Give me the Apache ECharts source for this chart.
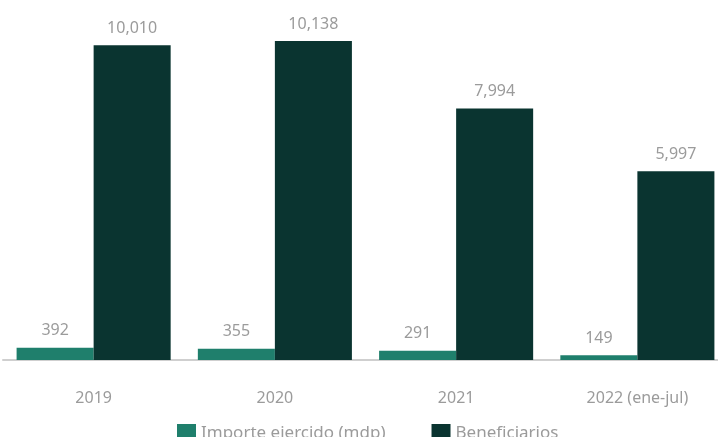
<!DOCTYPE html>
<html>
<head>
<meta charset="utf-8">
<script src="https://cdn.jsdelivr.net/npm/echarts@6/dist/echarts.min.js"></script>
<style>
  html, body { margin: 0; padding: 0; background: #fff; }
  #chart { width: 718px; height: 437px; }
</style>
</head>
<body>
<div id="chart"></div>
<script>
// datos
var categories = ["2019", "2020", "2021", "2022 (ene-jul)"];
var importe = [392, 355, 291, 149];
var beneficiarios = [10010, 10138, 7994, 5997];

var labelStyle = {
  show: true,
  position: "top",
  distance: 9,
  color: "#9b9b9b",
  fontSize: 16,
  fontFamily: "Noto Sans",
  formatter: function (p) {
    return p.value.toLocaleString("en-US");
  }
};

var myChart = echarts.init(document.getElementById("chart"));
myChart.setOption({
  animation: false,
  grid: { left: 3, right: -10, top: 14, bottom: 77, outerBoundsMode: "none", containLabel: false },
  legend: {
    left: 172,
    top: 419,
    icon: "rect",
    itemWidth: 19,
    itemHeight: 19,
    itemGap: 46,
    textStyle: { color: "#9b9b9b", fontSize: 17, fontFamily: "Noto Sans" },
    data: ["Importe ejercido (mdp)", "Beneficiarios"]
  },
  xAxis: {
    type: "category",
    data: categories,
    axisLine: { lineStyle: { color: "#cfcfcf", width: 2 } },
    axisTick: { show: false },
    axisLabel: { color: "#9b9b9b", fontSize: 16, fontFamily: "Noto Sans", margin: 30 }
  },
  yAxis: {
    type: "value",
    min: 0,
    max: 11000,
    show: false
  },
  series: [
    {
      name: "Importe ejercido (mdp)",
      type: "bar",
      data: importe,
      barGap: "0%",
      barCategoryGap: "15%",
      itemStyle: { color: "#1f7f6c" },
      label: labelStyle
    },
    {
      name: "Beneficiarios",
      type: "bar",
      data: beneficiarios,
      barGap: "0%",
      barCategoryGap: "15%",
      itemStyle: { color: "#0a3430" },
      label: labelStyle
    }
  ]
});
</script>
</body>
</html>
